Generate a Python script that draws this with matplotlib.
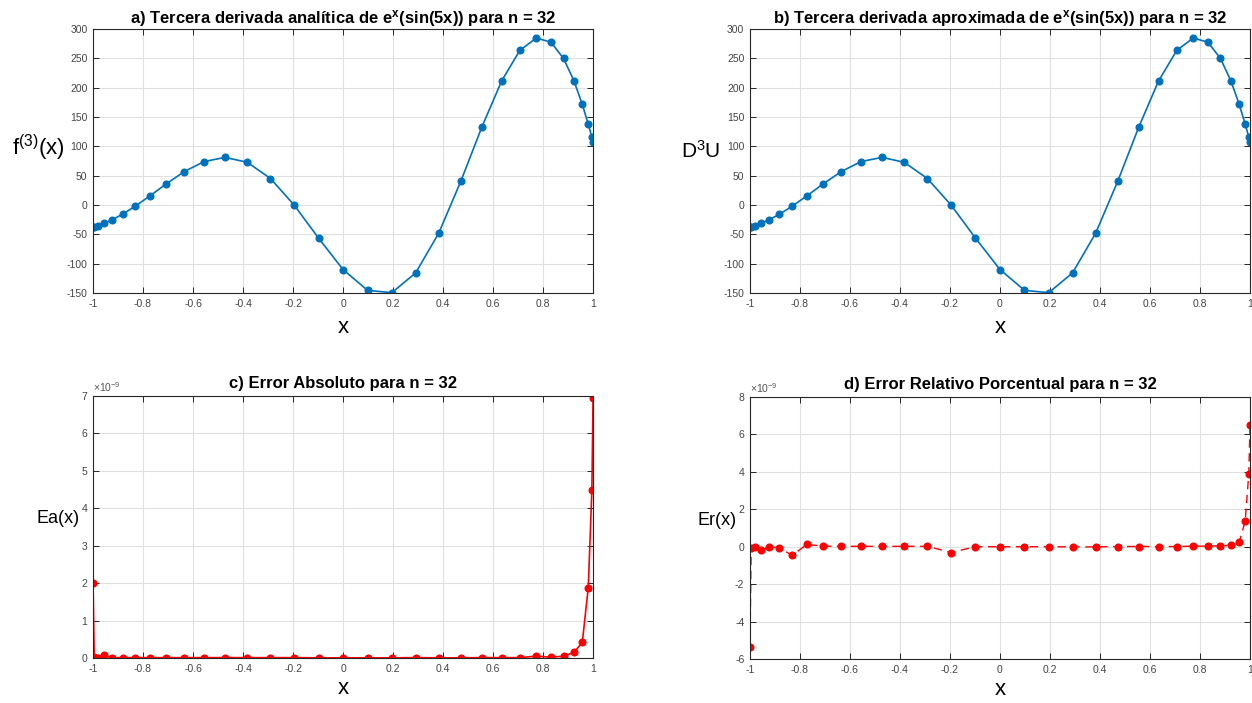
import matplotlib.pyplot as plt

## Fuentes parecidas a las de MATLAB
plt.rcParams['font.family'] = ['Liberation Sans', 'DejaVu Sans']
plt.rcParams['mathtext.fontset'] = 'custom'
plt.rcParams['mathtext.rm'] = 'Liberation Sans'
plt.rcParams['mathtext.it'] = 'Liberation Sans'
plt.rcParams['mathtext.bf'] = 'Liberation Sans:bold'

####    DATOS (nodos de Chebyshev, n = 32)
x_nodos = [1.0, 0.99518, 0.98079, 0.95694, 0.92388, 0.88192, 0.83147, 0.77301,
           0.70711, 0.63439, 0.55557, 0.47140, 0.38268, 0.29028, 0.19509, 0.09802,
           0.0, -0.09802, -0.19509, -0.29028, -0.38268, -0.47140, -0.55557, -0.63439,
           -0.70711, -0.77301, -0.83147, -0.88192, -0.92388, -0.95694, -0.98079,
           -0.99518, -1.0]

## tercera derivada analitica
d3_analitica = [108.07, 115.77, 137.87, 171.47, 211.34, 249.83, 277.57, 284.72,
                263.61, 211.59, 133.29, 40.96, -48.01, -115.74, -149.44, -145.47,
                -110.0, -56.41, -0.34, 45.16, 72.74, 81.22, 74.09, 57.11,
                36.08, 15.45, -2.15, -15.67, -25.19, -31.40, -35.10, -37.00, -37.58]

## tercera derivada aproximada (D^3 U), igual a la vista
d3_aproximada = [108.07, 115.77, 137.87, 171.47, 211.34, 249.83, 277.57, 284.72,
                 263.61, 211.59, 133.29, 40.96, -48.01, -115.74, -149.44, -145.47,
                 -110.0, -56.41, -0.34, 45.16, 72.74, 81.22, 74.09, 57.11,
                 36.08, 15.45, -2.15, -15.67, -25.19, -31.40, -35.10, -37.00, -37.58]

## errores en unidades de 1e-9
error_abs = [6.95, 4.48, 1.88, 0.42, 0.15, 0.05, 0.02, 0.05,
             0.01, 0.01, 0.01, 0.005, 0.005, 0.01, 0.005, 0.005,
             0.005, 0.005, 0.01, 0.01, 0.01, 0.01, 0.01, 0.01,
             0.01, 0.01, 0.01, 0.01, 0.01, 0.07, 0.01, 0.03, 2.0]

error_rel = [6.48, 3.9, 1.37, 0.24, 0.08, 0.05, 0.03, 0.03,
             0.01, 0.01, 0.01, 0.01, -0.01, -0.01, 0.0, 0.0,
             0.0, 0.0, -0.31, 0.02, 0.02, 0.02, 0.02, 0.02,
             0.03, 0.12, -0.47, -0.05, -0.02, -0.2, 0.0, -0.05, -5.38]

x_ticks = [-1, -0.8, -0.6, -0.4, -0.2, 0, 0.2, 0.4, 0.6, 0.8, 1]
x_ticklabels = ['-1', '-0.8', '-0.6', '-0.4', '-0.2', '0', '0.2', '0.4', '0.6', '0.8', '1']

azul = '#0072BD'
rojo = '#FF0000'


def estilo(ax, yticks, ylim, pad_x):
    ax.set_xlim(-1, 1)
    ax.set_ylim(*ylim)
    ax.set_xticks(x_ticks)
    ax.set_xticklabels(x_ticklabels)
    ax.set_yticks(yticks)
    ax.set_yticklabels([str(t) for t in yticks])
    ax.grid(True, color='#e0e0e0', linewidth=0.8)
    ax.set_axisbelow(True)
    ax.tick_params(direction='in', top=True, right=True, length=4, width=0.7,
                   labelsize=7.5, colors='#262626', labelcolor='#444444', pad=4)
    for s in ax.spines.values():
        s.set_color('#262626')
        s.set_linewidth(0.8)
    ax.set_xlabel('x', fontsize=16, labelpad=pad_x)


fig = plt.figure(figsize=(12.52, 7.03), dpi=100)
ax1 = fig.add_axes([0.0743, 0.5832, 0.3994, 0.3755])
ax2 = fig.add_axes([0.599, 0.5832, 0.3994, 0.3755])
ax3 = fig.add_axes([0.0743, 0.064, 0.3994, 0.3727])
ax4 = fig.add_axes([0.599, 0.0626, 0.3994, 0.3727])

## a)
ax1.plot(x_nodos, d3_analitica, '-o', color=azul, lw=1.2, ms=4.8)
estilo(ax1, list(range(-150, 301, 50)), (-150, 300), 6)
ax1.set_title(r'a) Tercera derivada analítica de e$^{\mathbf{x}}$(sin(5x)) para n = 32',
              fontsize=12, fontweight='bold', pad=4)
ax1.set_ylabel(r'f$^{(3)}$(x)', fontsize=16, rotation=0, ha='center', va='center')
ax1.yaxis.set_label_coords(-0.11, 0.55)

## b)
ax2.plot(x_nodos, d3_aproximada, '-o', color=azul, lw=1.2, ms=4.8)
estilo(ax2, list(range(-150, 301, 50)), (-150, 300), 6)
ax2.set_title(r'b) Tercera derivada aproximada de e$^{\mathbf{x}}$(sin(5x)) para n = 32',
              fontsize=12, fontweight='bold', pad=4)
ax2.set_ylabel(r'D$^{3}$U', fontsize=15, rotation=0, ha='center', va='center')
ax2.yaxis.set_label_coords(-0.098, 0.54)

## c)
ax3.plot(x_nodos, error_abs, '-o', color=rojo, lw=1.2, ms=4.8)
estilo(ax3, list(range(0, 8)), (0, 7), 3)
ax3.set_title('c) Error Absoluto para n = 32', fontsize=12, fontweight='bold', pad=6)
ax3.set_ylabel('Ea(x)', fontsize=13, rotation=0, ha='center', va='center')
ax3.yaxis.set_label_coords(-0.07, 0.534)
ax3.text(0.0, 1.008, r'$\times$10$^{-9}$', transform=ax3.transAxes, fontsize=7.5,
         color='#555555', ha='left', va='bottom')

## d)
ax4.plot(x_nodos, error_rel, '--o', color=rojo, lw=1.0, ms=4.8, dashes=(6, 4))
estilo(ax4, list(range(-6, 9, 2)), (-6, 8), 3)
ax4.set_title('d) Error Relativo Porcentual para n = 32', fontsize=12, fontweight='bold', pad=6)
ax4.set_ylabel('Er(x)', fontsize=13, rotation=0, ha='center', va='center')
ax4.yaxis.set_label_coords(-0.066, 0.53)
ax4.text(0.0, 1.008, r'$\times$10$^{-9}$', transform=ax4.transAxes, fontsize=7.5,
         color='#555555', ha='left', va='bottom')

plt.savefig('out.png', dpi=100)
